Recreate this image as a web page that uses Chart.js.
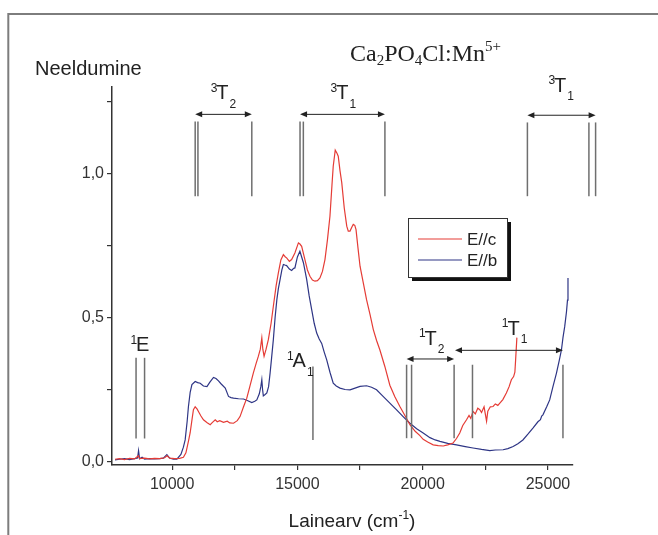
<!DOCTYPE html>
<html><head><meta charset="utf-8">
<script src="https://cdn.jsdelivr.net/npm/chart.js@4"></script>
<style>html,body{margin:0;padding:0;background:#fff}canvas{display:block}</style>
</head><body>
<canvas id="c" width="658" height="535"></canvas>
<script>
// ---- data ----
const seriesNames = ['E//c', 'E//b'];
const seriesColors = ['#e53c36', '#2e3585'];

const redPoints = [
 [7720,0.008],[7900,0.01],[8100,0.007],[8300,0.011],[8500,0.009],[8650,0.02],[8700,0.01],[8900,0.012],[9100,0.009],[9300,0.011],[9500,0.01],[9700,0.013],[9800,0.02],[9900,0.012],[10100,0.01],[10300,0.011],[10450,0.015],[10550,0.03],[10650,0.07],[10720,0.10],[10800,0.15],[10850,0.18],[10920,0.19],[11000,0.182],[11050,0.174],[11150,0.158],[11250,0.145],[11400,0.135],[11520,0.128],[11600,0.135],[11720,0.145],[11800,0.138],[11900,0.142],[12050,0.136],[12200,0.14],[12300,0.134],[12450,0.133],[12600,0.142],[12710,0.156],[12850,0.19],[12980,0.22],[13100,0.26],[13240,0.307],[13350,0.34],[13440,0.365],[13520,0.39],[13580,0.429],[13620,0.39],[13670,0.365],[13750,0.39],[13840,0.423],[13950,0.48],[14040,0.539],[14150,0.61],[14240,0.655],[14340,0.70],[14440,0.718],[14520,0.71],[14570,0.707],[14680,0.695],[14770,0.701],[14900,0.724],[15040,0.759],[15100,0.755],[15170,0.747],[15300,0.701],[15400,0.665],[15500,0.643],[15600,0.63],[15700,0.626],[15800,0.628],[15900,0.637],[16000,0.66],[16100,0.701],[16200,0.77],[16300,0.852],[16380,0.96],[16430,1.025],[16510,1.081],[16580,1.07],[16630,1.06],[16700,1.01],[16770,0.968],[16870,0.88],[16970,0.817],[17030,0.80],[17100,0.8],[17180,0.815],[17230,0.823],[17290,0.82],[17340,0.805],[17420,0.74],[17500,0.678],[17630,0.62],[17760,0.562],[17900,0.51],[18030,0.458],[18160,0.42],[18290,0.388],[18490,0.33],[18690,0.265],[18890,0.225],[19090,0.191],[19290,0.16],[19490,0.128],[19700,0.105],[19890,0.09],[20020,0.077],[20200,0.068],[20420,0.058],[20620,0.055],[20820,0.054],[21000,0.058],[21210,0.064],[21350,0.08],[21480,0.099],[21600,0.125],[21750,0.145],[21850,0.16],[21920,0.15],[22010,0.174],[22100,0.165],[22200,0.185],[22280,0.18],[22350,0.17],[22450,0.19],[22550,0.14],[22600,0.175],[22700,0.19],[22810,0.191],[22900,0.2],[23000,0.195],[23080,0.203],[23200,0.215],[23340,0.238],[23450,0.26],[23540,0.284],[23630,0.295],[23680,0.31],[23710,0.353],[23760,0.43]
];

const bluePoints = [
 [7720,0.006],[7900,0.008],[8100,0.01],[8300,0.007],[8500,0.01],[8620,0.012],[8660,0.038],[8700,0.01],[8800,0.015],[8900,0.008],[9100,0.01],[9300,0.009],[9500,0.01],[9650,0.012],[9790,0.024],[9900,0.012],[10050,0.008],[10190,0.008],[10350,0.025],[10450,0.05],[10520,0.075],[10600,0.14],[10650,0.19],[10720,0.24],[10790,0.267],[10920,0.278],[11020,0.274],[11120,0.272],[11250,0.262],[11390,0.26],[11500,0.275],[11650,0.292],[11750,0.288],[11850,0.28],[11950,0.27],[12120,0.255],[12250,0.226],[12350,0.222],[12450,0.22],[12650,0.218],[12850,0.217],[13000,0.212],[13180,0.205],[13300,0.209],[13380,0.214],[13480,0.235],[13540,0.26],[13580,0.284],[13610,0.25],[13640,0.228],[13700,0.232],[13780,0.238],[13850,0.26],[13910,0.307],[13970,0.36],[14040,0.423],[14110,0.50],[14180,0.562],[14240,0.60],[14310,0.632],[14380,0.665],[14440,0.684],[14500,0.682],[14570,0.68],[14680,0.668],[14770,0.663],[14840,0.67],[14900,0.672],[15000,0.71],[15100,0.73],[15170,0.71],[15240,0.69],[15370,0.632],[15470,0.575],[15570,0.527],[15670,0.48],[15770,0.446],[15870,0.425],[15970,0.41],[16070,0.38],[16170,0.353],[16300,0.31],[16430,0.272],[16550,0.262],[16700,0.255],[16900,0.25],[17100,0.249],[17300,0.255],[17500,0.261],[17760,0.263],[17960,0.258],[18160,0.249],[18400,0.228],[18690,0.203],[18950,0.18],[19220,0.156],[19490,0.133],[19760,0.114],[20020,0.099],[20290,0.083],[20500,0.075],[20690,0.07],[21000,0.063],[21350,0.058],[21700,0.052],[22010,0.047],[22350,0.042],[22680,0.038],[22900,0.04],[23210,0.041],[23400,0.045],[23610,0.052],[23800,0.062],[24000,0.075],[24200,0.095],[24400,0.116],[24600,0.138],[24700,0.145],[24750,0.158],[24800,0.162],[24950,0.19],[25070,0.214],[25200,0.26],[25340,0.307],[25450,0.35],[25540,0.388],[25600,0.43],[25670,0.469],[25740,0.52],[25780,0.56],[25800,0.637]
];

const xRange = [7600, 26000];
const yRange = [-0.012, 1.30];
const xTicks = [10000, 12500, 15000, 17500, 20000, 22500, 25000];
const xTickLabels = ['10000', '', '15000', '', '20000', '', '25000'];
const yTicks = [0, 0.25, 0.5, 0.75, 1.0, 1.25];
const yTickLabels = ['0,0', '', '0,5', '', '1,0', ''];

// energy-level markers (wavenumbers), their vertical extent and labels
const levelLines = [
 {x:[8560, 8900], y:[0.08, 0.36]},
 {x:[10920, 11030, 13180], y:[0.921, 1.18]},
 {x:[15105, 15237, 18493], y:[0.921, 1.18]},
 {x:[15620], y:[0.075, 0.33]},
 {x:[24180, 26635, 26902], y:[0.921, 1.177]},
 {x:[19358, 19557, 21255, 21988, 25599], y:[0.081, 0.336]}
];
const levelArrows = [
 {x:[10920, 13180], y:1.205},
 {x:[15105, 18493], y:1.205},
 {x:[24180, 26902], y:1.202},
 {x:[19358, 21255], y:0.356},
 {x:[21290, 25599], y:0.386}
];
const levelLabels = [
 {sup:'1', main:'E',  sub:'',  x:8828,  y:0.403},
 {sup:'3', main:'T',  sub:'2', x:12008, y:1.277},
 {sup:'3', main:'T',  sub:'1', x:16791, y:1.277},
 {sup:'1', main:'A',  sub:'1', x:15073, y:0.348},
 {sup:'3', main:'T',  sub:'1', x:25488, y:1.303},
 {sup:'1', main:'T',  sub:'2', x:20320, y:0.425},
 {sup:'1', main:'T',  sub:'1', x:23627, y:0.46}
];

const SANS = "'Liberation Sans', Arial, sans-serif";
const SERIF = "'Liberation Serif', 'Times New Roman', serif";

const overlay = {
  id: 'overlay',
  beforeDraw(chart) {
    const ctx = chart.ctx;
    ctx.save();
    ctx.fillStyle = '#fff';
    ctx.fillRect(0, 0, chart.width, chart.height);
    ctx.strokeStyle = '#7d7d7d';
    ctx.lineWidth = 2;
    ctx.beginPath();
    ctx.moveTo(8.3, 535);
    ctx.lineTo(8.3, 14);
    ctx.lineTo(658, 14);
    ctx.stroke();
    ctx.restore();
  },
  afterDraw(chart) {
    const ctx = chart.ctx;
    const xs = chart.scales.x, ys = chart.scales.y;
    ctx.save();
    // level lines
    ctx.strokeStyle = '#6f6f6f';
    ctx.lineWidth = 1.5;
    levelLines.forEach(g => {
      const y0 = ys.getPixelForValue(g.y[0]), y1 = ys.getPixelForValue(g.y[1]);
      g.x.forEach(v => {
        const px = xs.getPixelForValue(v);
        ctx.beginPath(); ctx.moveTo(px, y0); ctx.lineTo(px, y1); ctx.stroke();
      });
    });
    // arrows
    ctx.strokeStyle = '#222'; ctx.fillStyle = '#222'; ctx.lineWidth = 1;
    levelArrows.forEach(a => {
      const x1 = xs.getPixelForValue(a.x[0]), x2 = xs.getPixelForValue(a.x[1]);
      const py = ys.getPixelForValue(a.y);
      ctx.beginPath(); ctx.moveTo(x1 + 3, py); ctx.lineTo(x2 - 3, py); ctx.stroke();
      ctx.beginPath(); ctx.moveTo(x1, py); ctx.lineTo(x1 + 7, py - 3); ctx.lineTo(x1 + 7, py + 3); ctx.closePath(); ctx.fill();
      ctx.beginPath(); ctx.moveTo(x2, py); ctx.lineTo(x2 - 7, py - 3); ctx.lineTo(x2 - 7, py + 3); ctx.closePath(); ctx.fill();
    });
    // labels
    ctx.fillStyle = '#222';
    ctx.textBaseline = 'middle';
    levelLabels.forEach(l => {
      const px = xs.getPixelForValue(l.x), py = ys.getPixelForValue(l.y);
      ctx.font = '20px ' + SANS;
      const w = ctx.measureText(l.main).width;
      ctx.textAlign = 'center';
      ctx.fillText(l.main, px, py);
      ctx.font = '12px ' + SANS;
      ctx.textAlign = 'right';
      ctx.fillText(l.sup, px - w / 2 + 1, py - 5);
      ctx.textAlign = 'left';
      if (l.sub) ctx.fillText(l.sub, px + w / 2 + 1, py + 11);
    });
    // title
    ctx.textAlign = 'left';
    ctx.textBaseline = 'alphabetic';
    ctx.fillStyle = '#222';
    const parts = [['Ca',0,24],['2',4,15],['PO',0,24],['4',4,15],['Cl:Mn',0,24],['5+',-10,15]];
    let tx = 350;
    parts.forEach(p => {
      ctx.font = p[2] + 'px ' + SERIF;
      ctx.fillText(p[0], tx, 61 + p[1]);
      tx += ctx.measureText(p[0]).width;
    });
    // y axis title
    ctx.font = '20px ' + SANS;
    ctx.fillText('Neeldumine', 35, 75);
    // x axis title
    const xt = [['Lainearv (cm',0,19],['-1',-8,12],[')',0,19]];
    let tw = 0;
    xt.forEach(p => { ctx.font = p[2] + 'px ' + SANS; tw += ctx.measureText(p[0]).width; });
    let ax = 352 - tw / 2;
    xt.forEach(p => {
      ctx.font = p[2] + 'px ' + SANS;
      ctx.fillText(p[0], ax, 527 + p[1]);
      ax += ctx.measureText(p[0]).width;
    });
    // legend
    const lx = 408, ly = 218, lw = 99, lh = 59;
    ctx.fillStyle = '#111';
    ctx.fillRect(lx + 4, ly + 4, lw, lh);
    ctx.fillStyle = '#fff';
    ctx.fillRect(lx, ly, lw, lh);
    ctx.strokeStyle = '#333'; ctx.lineWidth = 1;
    ctx.strokeRect(lx + 0.5, ly + 0.5, lw, lh);
    ctx.font = '17px ' + SANS;
    ctx.textBaseline = 'middle';
    chart.data.datasets.forEach((d, i) => {
      const yy = ly + 21 + i * 21;
      ctx.strokeStyle = d.borderColor; ctx.lineWidth = 1.2;
      ctx.beginPath(); ctx.moveTo(lx + 10, yy); ctx.lineTo(lx + 54, yy); ctx.stroke();
      ctx.fillStyle = '#222';
      ctx.fillText(d.label, lx + 59, yy + 1);
    });
    ctx.restore();
  }
};

const toXY = pts => pts.map(p => ({x: p[0], y: p[1]}));

new Chart(document.getElementById('c'), {
  type: 'line',
  data: {
    datasets: [
      {label: seriesNames[0], data: toXY(redPoints), borderColor: seriesColors[0], borderWidth: 1.2, pointRadius: 0, tension: 0, fill: false},
      {label: seriesNames[1], data: toXY(bluePoints), borderColor: seriesColors[1], borderWidth: 1.2, pointRadius: 0, tension: 0, fill: false}
    ]
  },
  options: {
    responsive: false,
    animation: false,
    events: [],
    layout: {padding: {left: 0, right: 85, top: 87, bottom: 0}},
    plugins: {legend: {display: false}, tooltip: {enabled: false}, title: {display: false}},
    scales: {
      x: {
        type: 'linear', min: xRange[0], max: xRange[1],
        afterBuildTicks: s => { s.ticks = xTicks.map(v => ({value: v})); },
        afterFit: s => { s.height = 70; },
        ticks: {
          autoSkip: false, maxRotation: 0, padding: 5, color: '#333',
          font: {family: SANS, size: 16},
          callback: v => { const i = xTicks.indexOf(v); return i >= 0 ? xTickLabels[i] : ''; }
        },
        grid: {drawOnChartArea: false, drawTicks: true, tickLength: 5, color: '#333', lineWidth: 1.2},
        border: {display: true, color: '#333', width: 1.5}
      },
      y: {
        type: 'linear', min: yRange[0], max: yRange[1],
        afterBuildTicks: s => { s.ticks = yTicks.map(v => ({value: v})); },
        afterFit: s => { s.width = 112; },
        ticks: {
          autoSkip: false, padding: 3, color: '#333',
          font: {family: SANS, size: 16},
          callback: v => { const i = yTicks.indexOf(v); return i >= 0 ? yTickLabels[i] : ''; }
        },
        grid: {drawOnChartArea: false, drawTicks: true, tickLength: 5, color: '#333', lineWidth: 1.2},
        border: {display: true, color: '#333', width: 1.5}
      }
    }
  },
  plugins: [overlay]
});
</script>
</body></html>
